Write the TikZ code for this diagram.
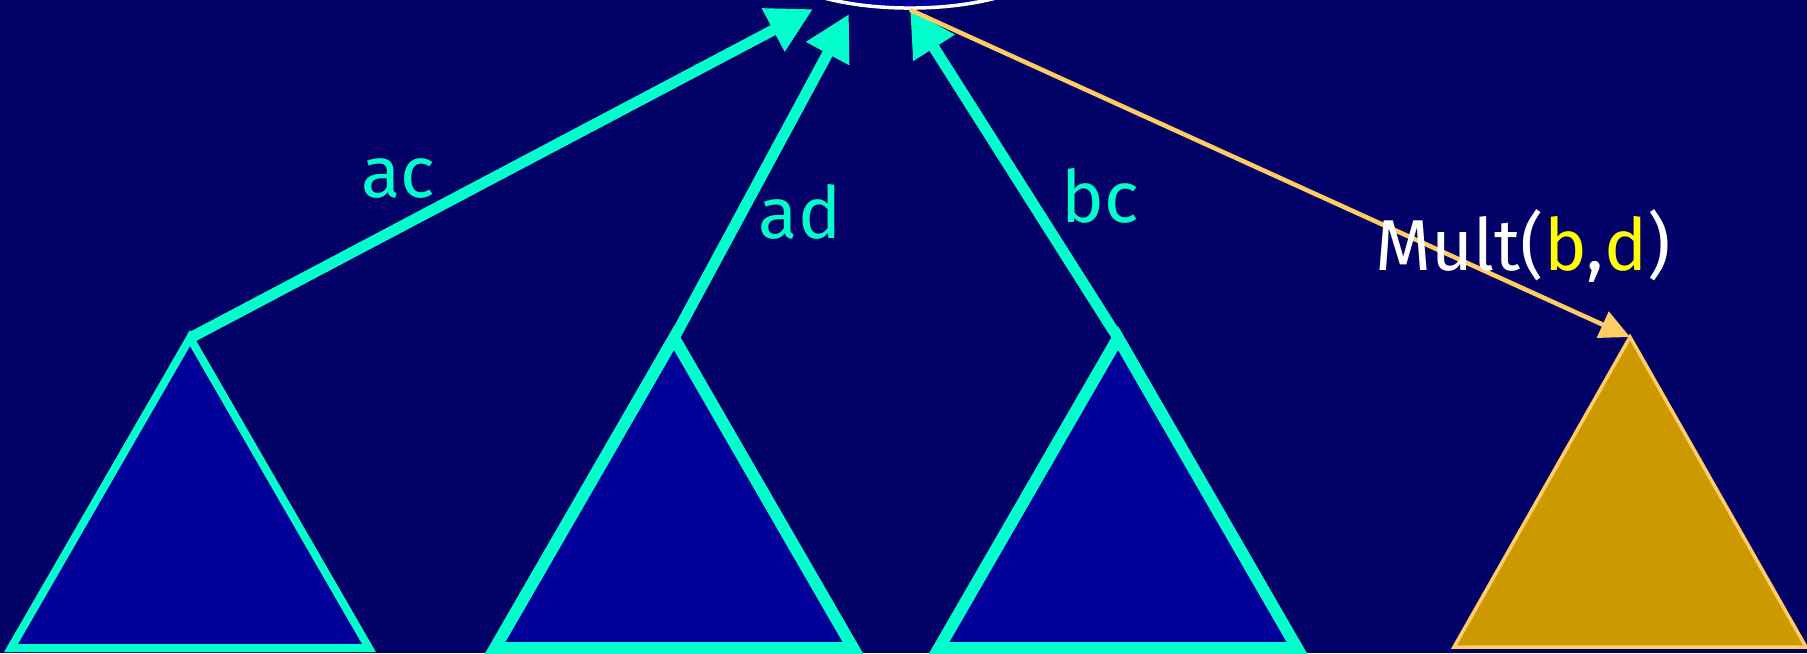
\documentclass[tikz,border=0pt]{standalone}
\usepackage{fontspec}
\setmainfont{Fira Sans}
\usepackage{xcolor}
\definecolor{BgNavy}{HTML}{000066}
\definecolor{TreeBlue}{HTML}{000099}
\definecolor{Aqua}{HTML}{00FFCC}
\definecolor{Peach}{HTML}{FFCC66}
\definecolor{Gold}{HTML}{CC9900}
\definecolor{Lemon}{HTML}{FFFF00}
\usepackage{tikz}
\usetikzlibrary{shapes.geometric, arrows.meta}

\begin{document}
\begin{tikzpicture}[x=0.01cm, y=-0.01cm,
    edgelbl/.style={anchor=base, text=Aqua, font=\fontsize{20.5}{24}\selectfont},
    upedge/.style={draw=Aqua, line width=0.11cm, -{Triangle[length=0.45cm, width=0.46cm]}}]
                \fill[BgNavy] (0,0) rectangle (1807,653);
                \useasboundingbox (0,0) rectangle (1807,653);
                \foreach \cx/\lw/\nm in {190/0.08/t1, 674/0.12/t2, 1118/0.12/t3} {
                    \filldraw[fill=TreeBlue, draw=Aqua, line width=\lw cm]
                        (\cx,338) coordinate (\nm) -- ++(179,310) -- ++(-358,0) -- cycle;
                }
                \filldraw[fill=Gold, draw=Peach, line width=0.035cm]
                    (1630,337) coordinate (t4) -- ++(176,310) -- ++(-352,0) -- cycle;
                \node[ellipse, draw=white, fill=TreeBlue, line width=0.035cm, inner sep=0pt,
                    minimum width=2.8cm, minimum height=0.96cm] (root) at (910,-40) {};
                \coordinate (e1) at (813,9);
                \coordinate (e2) at (849,14);
                \draw[upedge] (t1) -- (e1);
                \draw[upedge] (t2) -- (e2);
                \draw[upedge] (t3) -- (root.south);
                \draw[draw=Peach, line width=0.045cm, -{Triangle[length=0.3cm, width=0.28cm]}] (root.south) -- (t4);
                \node[edgelbl] (lac) at (398,197) {ac};
                \node[edgelbl] (lad) at (800,238) {ad};
                \node[edgelbl] (lbc) at (1100,222) {bc};
                \node[edgelbl, text=white] (lmult) at (1523,270) {Mult(\textcolor{Lemon}{b},\textcolor{Lemon}{d})};
            \end{tikzpicture}
\end{document}
